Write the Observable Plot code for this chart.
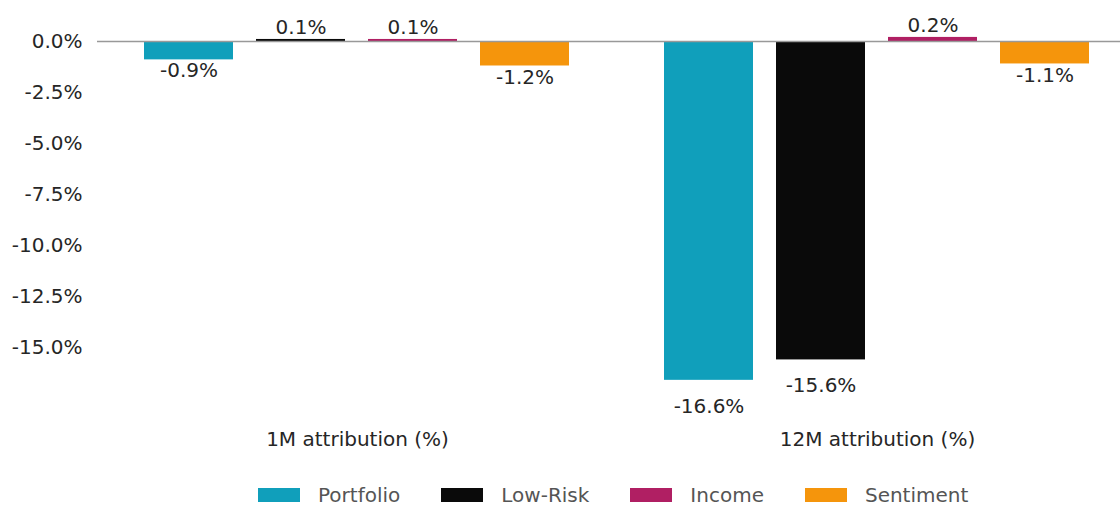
<!DOCTYPE html>
<html><head><meta charset="utf-8">
<script src="https://cdn.jsdelivr.net/npm/d3@7"></script>
<script src="https://cdn.jsdelivr.net/npm/@observablehq/plot@0.6"></script>
<style>
html,body{margin:0;padding:0;background:#fff;overflow:hidden;font-family:"DejaVu Sans",sans-serif;}
#chart svg{display:block;overflow:visible;}
#legend{margin-top:23px;margin-left:258px;}
#legend .lg-swatches{font-family:"DejaVu Sans",sans-serif;font-size:20px;line-height:1;color:#555;margin:0;}
#legend .lg-swatches-wrap{min-height:24px;}
#legend .lg-swatch{margin-right:41px;}
#legend .lg-swatch > svg{margin-right:18px;}
</style></head>
<body><div id="chart"></div><div id="legend"></div>
<script>
const groups = ["1M attribution (%)", "12M attribution (%)"];
const series = ["Portfolio", "Low-Risk", "Income", "Sentiment"];
const values1M = [-0.9, 0.1, 0.1, -1.2];
const values12M = [-16.6, -15.6, 0.2, -1.1];
const colors = ["#109fbb", "#0a0a0a", "#b01f63", "#f5950c"];
const yTicks = [0, -2.5, -5, -7.5, -10, -12.5, -15];

const data = [
  ...series.map((s, i) => ({group: groups[0], series: s, value: values1M[i]})),
  ...series.map((s, i) => ({group: groups[1], series: s, value: values12M[i]}))
];
const fmt = v => v.toFixed(1) + "%";
const labelY = d => d.value >= 0 ? d.value + 0.6 : d.value - (0.5 + 0.047 * Math.abs(d.value));

const chart = Plot.plot({
  width: 1120, height: 460,
  marginLeft: 97, marginRight: -17, marginTop: 41, marginBottom: 72,
  style: {fontFamily: "DejaVu Sans", fontSize: "20px", color: "#262626", background: "#fff", overflow: "visible"},
  fx: {domain: groups, padding: 0, label: null},
  x: {domain: series, paddingInner: 0.205, paddingOuter: 0.415, axis: null},
  y: {domain: [-17, 0], label: null},
  color: {domain: series, range: colors},
  marks: [
    Plot.axisY({ticks: yTicks, tickSize: 0, tickPadding: 15, tickFormat: fmt, label: null}),
    Plot.axisFx({anchor: "bottom", tickSize: 0, tickPadding: 43, label: null}),
    Plot.barY(data, {fx: "group", x: "series", y: "value", fill: "series"}),
    Plot.ruleY([0], {stroke: "#999", strokeWidth: 1.5}),
    Plot.text(data, {fx: "group", x: "series", y: labelY, text: d => fmt(d.value), fill: "#262626"})
  ]
});
document.getElementById("chart").append(chart);

const legend = Plot.legend({
  color: {domain: series, range: colors},
  legend: "swatches", swatchWidth: 42, swatchHeight: 14, className: "lg"
});
document.getElementById("legend").append(legend);
</script>
</body></html>
